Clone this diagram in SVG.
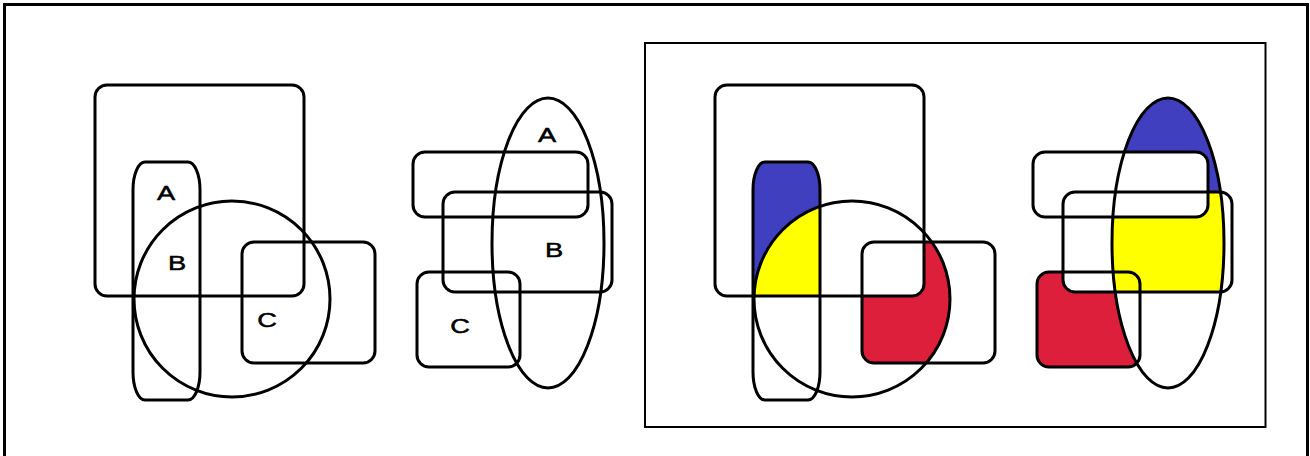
<svg xmlns="http://www.w3.org/2000/svg" xmlns:xlink="http://www.w3.org/1999/xlink" width="1310" height="456" viewBox="0 0 1310 456">
<style>
.ol{fill:none;stroke:#000;stroke-width:3}
.lbl{font-family:"Liberation Sans",Arial,sans-serif;font-size:21px;fill:#000;stroke:#000;stroke-width:0.5;text-anchor:middle}
.frame{fill:none;stroke:#000}
</style>
<defs>
<rect id="sq" x="95" y="85" width="209" height="211" rx="12"/>
<rect id="pill" x="133" y="162" width="67" height="238" rx="12" ry="28"/>
<circle id="circ" cx="232" cy="299" r="98"/>
<rect id="rc" x="242" y="242" width="133" height="121" rx="12"/>
<ellipse id="ell" cx="548" cy="243" rx="56" ry="145"/>
<rect id="topr" x="413" y="152" width="175" height="65" rx="12"/>
<rect id="mid" x="443" y="192" width="169" height="100" rx="12"/>
<rect id="rc2" x="417" y="272" width="103" height="95" rx="12"/>
<clipPath id="cSq"><use href="#sq"/></clipPath>
<clipPath id="cPill"><use href="#pill"/></clipPath>
<clipPath id="cCirc"><use href="#circ"/></clipPath>
<clipPath id="cEll"><use href="#ell"/></clipPath>
<mask id="mNoCirc" maskUnits="userSpaceOnUse" x="-2000" y="-2000" width="5000" height="5000">
<rect x="-2000" y="-2000" width="5000" height="5000" fill="#fff"/><use href="#circ" fill="#000"/>
</mask>
<mask id="mNoSq" maskUnits="userSpaceOnUse" x="-2000" y="-2000" width="5000" height="5000">
<rect x="-2000" y="-2000" width="5000" height="5000" fill="#fff"/><use href="#sq" fill="#000"/>
</mask>
<mask id="mBlue2" maskUnits="userSpaceOnUse" x="-2000" y="-2000" width="5000" height="5000">
<rect x="-2000" y="-2000" width="5000" height="5000" fill="#fff"/><use href="#topr" fill="#000"/><rect x="-2000" y="192" width="5000" height="3000" fill="#000"/>
</mask>
<mask id="mNoTop" maskUnits="userSpaceOnUse" x="-2000" y="-2000" width="5000" height="5000">
<rect x="-2000" y="-2000" width="5000" height="5000" fill="#fff"/><use href="#topr" fill="#000"/>
</mask>
<mask id="mNoMidEll" maskUnits="userSpaceOnUse" x="-2000" y="-2000" width="5000" height="5000">
<rect x="-2000" y="-2000" width="5000" height="5000" fill="#fff"/><use href="#mid" fill="#000"/><use href="#ell" fill="#000"/>
</mask>
</defs>
<rect x="0" y="0" width="1310" height="456" fill="#fff"/>
<g id="outer-frame"><rect class="frame" x="4.5" y="4.5" width="1303" height="500" stroke-width="3"/></g>
<g id="inner-frame"><rect class="frame" x="645" y="43" width="620.5" height="384" stroke-width="2"/></g>

<g id="diagram1">
<use href="#sq" class="ol"/>
<use href="#pill" class="ol"/>
<use href="#circ" class="ol"/>
<use href="#rc" class="ol"/>
<text class="lbl" transform="translate(166,200) scale(1.3,1)">A</text>
<text class="lbl" transform="translate(177,270) scale(1.3,1)">B</text>
<text class="lbl" transform="translate(267,327) scale(1.3,1)">C</text>
</g>

<g id="diagram2">
<use href="#ell" class="ol"/>
<use href="#topr" class="ol"/>
<use href="#mid" class="ol"/>
<use href="#rc2" class="ol"/>
<text class="lbl" transform="translate(547,142) scale(1.3,1)">A</text>
<text class="lbl" transform="translate(554,257) scale(1.3,1)">B</text>
<text class="lbl" transform="translate(460,333) scale(1.3,1)">C</text>
</g>

<g id="diagram3" transform="translate(620,0)">
<g clip-path="url(#cSq)"><use href="#pill" fill="#3f3fbf" mask="url(#mNoCirc)"/></g>
<g clip-path="url(#cSq)"><g clip-path="url(#cPill)"><use href="#circ" fill="#ffff00"/></g></g>
<g clip-path="url(#cCirc)"><use href="#rc" fill="#de1f3c" mask="url(#mNoSq)"/></g>
<use href="#sq" class="ol"/>
<use href="#pill" class="ol"/>
<use href="#circ" class="ol"/>
<use href="#rc" class="ol"/>
</g>

<g id="diagram4" transform="translate(620,0)">
<use href="#ell" fill="#3f3fbf" mask="url(#mBlue2)"/>
<g clip-path="url(#cEll)"><use href="#mid" fill="#ffff00" mask="url(#mNoTop)"/></g>
<use href="#rc2" fill="#de1f3c" mask="url(#mNoMidEll)"/>
<use href="#ell" class="ol"/>
<use href="#topr" class="ol"/>
<use href="#mid" class="ol"/>
<use href="#rc2" class="ol"/>
</g>
</svg>
